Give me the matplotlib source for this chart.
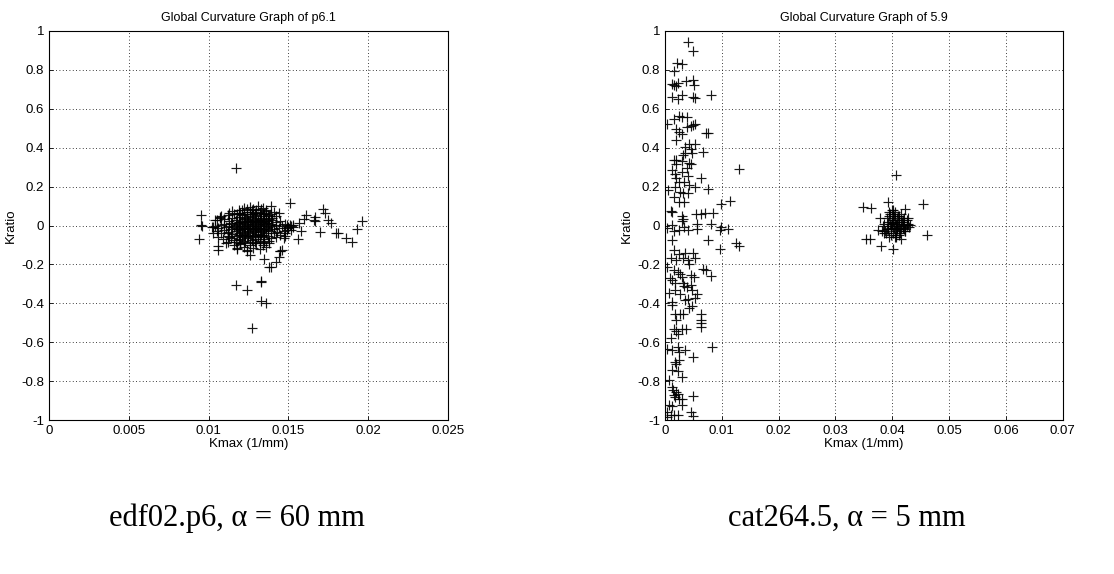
import matplotlib
matplotlib.use("Agg")
import matplotlib.pyplot as plt

# ---- left panel: edf02.p6 ----
left_x = [
    # upper edge of blob
    0.0122, 0.0126, 0.0131, 0.0134, 0.0128, 0.0136, 0.0119, 0.0141, 0.0144, 0.0115,
    0.0108, 0.0112, 0.0116, 0.0119, 0.0121, 0.0124, 0.0127, 0.0129, 0.0132, 0.0135,
    0.0137, 0.0139, 0.0142, 0.0126, 0.0130, 0.0133,
    0.0104, 0.0107, 0.0110, 0.0113, 0.0115, 0.0117, 0.0119, 0.0120, 0.0122, 0.0123,
    0.0124, 0.0125, 0.0126, 0.0127, 0.0128, 0.0129, 0.0130, 0.0131, 0.0132, 0.0133,
    0.0134, 0.0135, 0.0136, 0.0137, 0.0138, 0.0140, 0.0142, 0.0145,
    # middle of blob
    0.0102, 0.0104, 0.0106, 0.0108, 0.0110, 0.0111, 0.0113, 0.0114, 0.0116, 0.0117,
    0.0118, 0.0119, 0.0120, 0.0121, 0.0122, 0.0123, 0.0124, 0.0125, 0.0126, 0.0127,
    0.0128, 0.0129, 0.0130, 0.0131, 0.0132, 0.0133, 0.0134, 0.0135, 0.0136, 0.0137,
    0.0138, 0.0139, 0.0140, 0.0142, 0.0144, 0.0146, 0.0148, 0.0150, 0.0149,
    0.0105, 0.0108, 0.0110, 0.0112, 0.0114, 0.0115, 0.0117, 0.0118, 0.0119, 0.0120,
    0.0121, 0.0122, 0.0123, 0.0124, 0.0125, 0.0126, 0.0127, 0.0128, 0.0129, 0.0130,
    0.0131, 0.0132, 0.0133, 0.0134, 0.0135, 0.0136, 0.0137, 0.0139, 0.0141, 0.0143,
    0.0147,
    # extra fill of the dense core
    0.0118, 0.0120, 0.0122, 0.0124, 0.0126, 0.0128, 0.0130, 0.0132, 0.0134, 0.0136,
    0.0138, 0.0119, 0.0121, 0.0123, 0.0125, 0.0127, 0.0129, 0.0131, 0.0133, 0.0135,
    0.0137, 0.0118, 0.0120, 0.0122, 0.0124, 0.0126, 0.0128, 0.0130, 0.0132, 0.0134,
    0.0136, 0.0119, 0.0121, 0.0123, 0.0125, 0.0127, 0.0129, 0.0131, 0.0133, 0.0135,
    0.0117, 0.0120, 0.0123, 0.0126, 0.0129, 0.0132, 0.0135, 0.0138, 0.0121, 0.0124,
    0.0127, 0.0130, 0.0133, 0.0136, 0.0115, 0.0113, 0.0140, 0.0141,
    # lower part of blob
    0.0106, 0.0109, 0.0112, 0.0114, 0.0116, 0.0118, 0.0119, 0.0121, 0.0122, 0.0124,
    0.0125, 0.0127, 0.0128, 0.0129, 0.0131, 0.0132, 0.0134, 0.0135, 0.0137, 0.0139,
    0.0142, 0.0145, 0.0148,
    0.0111, 0.0116, 0.0118, 0.0120, 0.0122, 0.0124, 0.0126, 0.0128, 0.0130, 0.0132,
    0.0134, 0.0136, 0.0138, 0.0145, 0.0112,
    # scattered points around the blob
    0.0117, 0.0095, 0.0095, 0.0096, 0.0094, 0.0117, 0.0124, 0.0133, 0.0133, 0.0133,
    0.0136, 0.0127, 0.0138, 0.0139, 0.0142, 0.0144, 0.0146, 0.0145, 0.0135, 0.0126,
    0.0151, 0.0139, 0.0172, 0.0173, 0.0175, 0.0177, 0.0180, 0.0181, 0.0186, 0.0190,
    0.0193, 0.0196, 0.0170, 0.0160, 0.0161, 0.0157, 0.0156, 0.0158, 0.0167, 0.0166,
    0.0167, 0.0152, 0.0153, 0.0151, 0.0149, 0.0148, 0.0147, 0.0120, 0.0106, 0.0106,
    0.0103, 0.0103, 0.0105, 0.0107, 0.0113, 0.0112, 0.0120, 0.0118, 0.0124, 0.0150,
    0.0152, 0.0153,
]
left_y = [
    0.090, 0.095, 0.100, 0.090, 0.085, 0.080, 0.080, 0.070, 0.065, 0.075,
    0.050, 0.055, 0.060, 0.065, 0.055, 0.070, 0.060, 0.065, 0.070, 0.060,
    0.055, 0.060, 0.050, 0.050, 0.052, 0.048,
    0.030, 0.040, 0.035, 0.025, 0.040, 0.030, 0.045, 0.020, 0.035, 0.040,
    0.025, 0.030, 0.045, 0.020, 0.035, 0.030, 0.040, 0.025, 0.030, 0.035,
    0.020, 0.040, 0.030, 0.025, 0.035, 0.030, 0.020, 0.025,
    -0.005, 0.000, -0.010, 0.005, 0.010, -0.005, 0.000, 0.012, -0.008, 0.005,
    0.015, -0.002, 0.008, 0.000, 0.012, -0.006, 0.004, 0.010, -0.003, 0.006,
    0.000, 0.013, -0.008, 0.005, 0.010, -0.002, 0.007, 0.000, 0.012, -0.005,
    0.003, 0.010, -0.003, 0.005, -0.010, 0.000, 0.010, -0.005, 0.003,
    -0.030, -0.040, -0.025, -0.035, -0.020, -0.045, -0.030, -0.020, -0.040, -0.025,
    -0.035, -0.020, -0.045, -0.030, -0.020, -0.040, -0.025, -0.035, -0.020, -0.030,
    -0.045, -0.025, -0.035, -0.020, -0.030, -0.040, -0.025, -0.030, -0.020, -0.035,
    -0.030,
    0.060, 0.065, 0.058, 0.062, 0.068, 0.057, 0.063, 0.066, 0.059, 0.064,
    0.050, 0.018, 0.022, 0.016, 0.020, 0.024, 0.017, 0.021, 0.019, 0.023,
    0.015, -0.012, -0.015, -0.010, -0.014, -0.011, -0.016, -0.013, -0.012, -0.015,
    -0.010, -0.050, -0.048, -0.052, -0.047, -0.051, -0.049, -0.053, -0.046, -0.050,
    -0.085, -0.090, -0.082, -0.088, -0.086, -0.092, -0.084, -0.080, 0.080, 0.085,
    0.078, 0.082, 0.086, 0.075, 0.010, -0.060, 0.040, -0.040,
    -0.060, -0.070, -0.055, -0.065, -0.075, -0.055, -0.070, -0.060, -0.080, -0.065,
    -0.055, -0.075, -0.060, -0.070, -0.055, -0.080, -0.060, -0.070, -0.055, -0.065,
    -0.060, -0.050, -0.055,
    -0.090, -0.100, -0.120, -0.095, -0.110, -0.130, -0.100, -0.115, -0.090, -0.120,
    -0.100, -0.110, -0.090, -0.130, -0.085,
    0.294, 0.055, 0.003, 0.000, -0.068, -0.305, -0.330, -0.284, -0.292, -0.390,
    -0.400, -0.526, -0.214, -0.212, -0.185, -0.160, -0.125, -0.130, -0.170, -0.150,
    0.115, 0.100, 0.084, 0.063, 0.030, 0.015, -0.040, -0.040, -0.062, -0.084,
    -0.020, 0.026, -0.033, 0.032, 0.055, 0.015, -0.070, -0.030, 0.026, 0.030,
    0.046, -0.022, -0.005, 0.005, -0.022, -0.040, -0.065, -0.075, -0.125, -0.105,
    -0.040, -0.005, 0.030, 0.045, 0.063, -0.040, -0.090, -0.115, -0.125, -0.010,
    0.000, 0.005,
]

# ---- right panel: cat264.5 ----
right_x = [
    # stripe near Kmax = 0
    0.0040, 0.0049, 0.0021, 0.0029, 0.0015, 0.0012, 0.0016, 0.0019, 0.0022, 0.0036,
    0.0049, 0.0051, 0.0012, 0.0022, 0.0030, 0.0050, 0.0052, 0.0081,
    0.0004, 0.0016, 0.0025, 0.0029, 0.0039, 0.0019, 0.0025, 0.0029, 0.0038, 0.0045,
    0.0050, 0.0053, 0.0072, 0.0075, 0.0019, 0.0035, 0.0042, 0.0053, 0.0067, 0.0045,
    0.0048, 0.0015, 0.0020, 0.0020, 0.0032, 0.0035, 0.0030, 0.0042, 0.0045, 0.0039,
    0.0029, 0.0013, 0.0017, 0.0019, 0.0025, 0.0033, 0.0040, 0.0063, 0.0017, 0.0042,
    0.0053, 0.0076, 0.0026, 0.0032, 0.0040, 0.0005, 0.0016, 0.0033, 0.0025, 0.0010,
    0.0013, 0.0030, 0.0031, 0.0029, 0.0063, 0.0054, 0.0070, 0.0085, 0.0098, 0.0115,
    0.0130, 0.0012, 0.0004, 0.0015, 0.0025, 0.0033, 0.0041, 0.0056, 0.0057, 0.0080,
    0.0097, 0.0099, 0.0110, 0.0076, 0.0096, 0.0125, 0.0130,
    0.0013, 0.0015, 0.0025, 0.0035, 0.0050, 0.0010, 0.0019, 0.0031, 0.0040, 0.0043,
    0.0052, 0.0004, 0.0016, 0.0023, 0.0026, 0.0030, 0.0045, 0.0051, 0.0067, 0.0072,
    0.0081, 0.0009, 0.0013, 0.0017, 0.0032, 0.0033, 0.0039, 0.0045, 0.0048, 0.0017,
    0.0026, 0.0035, 0.0041, 0.0053, 0.0057, 0.0007, 0.0013, 0.0012, 0.0017, 0.0026,
    0.0032, 0.0042, 0.0048, 0.0063, 0.0064, 0.0063, 0.0064, 0.0019, 0.0015, 0.0019,
    0.0023, 0.0030, 0.0036, 0.0010, 0.0004, 0.0013, 0.0022, 0.0025, 0.0035, 0.0025,
    0.0017, 0.0020, 0.0049, 0.0083, 0.0012, 0.0022, 0.0029, 0.0007, 0.0013, 0.0014,
    0.0019, 0.0023, 0.0016, 0.0017, 0.0024, 0.0030, 0.0049, 0.0029, 0.0007, 0.0013,
    0.0004, 0.0015, 0.0022, 0.0046, 0.0049, 0.0010, 0.0004,
    # cluster near Kmax = 0.04
    0.0406, 0.0392, 0.0349, 0.0363, 0.0454, 0.0461, 0.0360, 0.0354, 0.0380, 0.0401,
    0.0423, 0.0425, 0.0432,
    0.0385, 0.0390, 0.0393, 0.0396, 0.0398, 0.0400, 0.0402, 0.0404, 0.0406, 0.0408,
    0.0410, 0.0412, 0.0415, 0.0418, 0.0420, 0.0423, 0.0427, 0.0388, 0.0392, 0.0395,
    0.0397, 0.0399, 0.0401, 0.0403, 0.0405, 0.0407, 0.0409, 0.0411, 0.0414, 0.0417,
    0.0421, 0.0425, 0.0383, 0.0389, 0.0394, 0.0398, 0.0402, 0.0405, 0.0409, 0.0413,
    0.0416, 0.0419, 0.0422, 0.0428, 0.0391, 0.0396, 0.0400, 0.0404, 0.0407, 0.0411,
    0.0415, 0.0420, 0.0378, 0.0386, 0.0393, 0.0399, 0.0403, 0.0408, 0.0412, 0.0418,
    0.0394, 0.0402, 0.0410, 0.0416, 0.0399, 0.0406, 0.0381, 0.0426, 0.0430, 0.0375,
]
right_y = [
    0.943, 0.897, 0.837, 0.832, 0.793, 0.730, 0.720, 0.715, 0.733, 0.741,
    0.747, 0.724, 0.660, 0.649, 0.673, 0.661, 0.658, 0.670,
    0.524, 0.550, 0.562, 0.558, 0.558, 0.498, 0.481, 0.469, 0.507, 0.513,
    0.519, 0.520, 0.478, 0.476, 0.438, 0.404, 0.421, 0.418, 0.378, 0.394,
    0.375, 0.336, 0.339, 0.318, 0.361, 0.373, 0.332, 0.322, 0.315, 0.297,
    0.276, 0.284, 0.267, 0.242, 0.224, 0.224, 0.253, 0.245, 0.200, 0.207,
    0.199, 0.190, 0.171, 0.168, 0.168, 0.185, 0.147, 0.122, 0.122, 0.075,
    0.070, 0.048, 0.036, 0.024, 0.062, 0.058, 0.067, 0.067, 0.110, 0.127,
    0.293, 0.005, -0.014, -0.027, -0.021, -0.007, -0.024, -0.020, 0.007, 0.007,
    -0.024, -0.007, -0.020, -0.075, -0.118, -0.089, -0.106,
    -0.075, -0.123, -0.144, -0.139, -0.140, -0.169, -0.178, -0.169, -0.178, -0.195,
    -0.169, -0.212, -0.229, -0.238, -0.250, -0.264, -0.255, -0.264, -0.221, -0.229,
    -0.260, -0.267, -0.281, -0.294, -0.294, -0.308, -0.315, -0.307, -0.329, -0.329,
    -0.351, -0.380, -0.378, -0.372, -0.353, -0.349, -0.392, -0.409, -0.452, -0.452,
    -0.452, -0.423, -0.414, -0.452, -0.486, -0.503, -0.520, -0.486, -0.529, -0.543,
    -0.555, -0.529, -0.529, -0.580, -0.632, -0.640, -0.623, -0.650, -0.637, -0.692,
    -0.700, -0.712, -0.675, -0.623, -0.743, -0.747, -0.777, -0.795, -0.829, -0.846,
    -0.855, -0.863, -0.872, -0.880, -0.889, -0.889, -0.877, -0.920, -0.923, -0.928,
    -0.958, -0.975, -0.975, -0.960, -0.980, -0.975, -0.983,
    0.259, 0.122, 0.096, 0.092, 0.113, -0.046, -0.070, -0.068, -0.106, -0.118,
    0.084, 0.002, 0.002,
    0.010, 0.040, -0.020, 0.060, 0.000, 0.030, -0.040, 0.070, 0.010, -0.020,
    0.050, -0.050, 0.020, -0.010, 0.040, -0.030, 0.010, -0.030, 0.020, 0.070,
    -0.050, 0.010, 0.060, -0.010, 0.030, -0.060, 0.000, 0.050, -0.040, 0.020,
    -0.020, 0.030, 0.000, -0.040, 0.050, -0.010, 0.020, -0.060, 0.040, -0.020,
    0.060, 0.000, -0.030, 0.040, -0.020, 0.010, 0.080, -0.030, 0.000, 0.030,
    -0.070, 0.010, 0.040, -0.040, -0.015, 0.015, 0.050, -0.020, 0.000, 0.030,
    -0.060, 0.080, 0.000, -0.010, 0.020, -0.050, -0.030, 0.005, -0.005, -0.025,
]

titles = ["Global Curvature Graph of p6.1", "Global Curvature Graph of 5.9"]
captions = ["edf02.p6, \u03b1 = 60 mm", "cat264.5, \u03b1 = 5 mm"]
x_ticks = [[0, 0.005, 0.01, 0.015, 0.02, 0.025],
           [0, 0.01, 0.02, 0.03, 0.04, 0.05, 0.06, 0.07]]
y_ticks = [-1, -0.8, -0.6, -0.4, -0.2, 0, 0.2, 0.4, 0.6, 0.8, 1]

plt.rcParams['font.family'] = ['Liberation Sans', 'DejaVu Sans']

fig = plt.figure(figsize=(11.14, 5.74), dpi=100)
ax_pos = [[0.044, 0.268, 0.358, 0.678], [0.597, 0.268, 0.357, 0.678]]
cap_x = [0.213, 0.760]
data = [(left_x, left_y), (right_x, right_y)]

for i in range(2):
    ax = fig.add_axes(ax_pos[i])
    xs, ys = data[i]
    # MATLAB style '+' markers
    ax.plot(xs, ys, '+', color='black', markersize=7, markeredgewidth=0.85, alpha=0.9)
    ax.set_xlim(x_ticks[i][0], x_ticks[i][-1])
    ax.set_ylim(-1, 1)
    ax.set_xticks(x_ticks[i])
    ax.set_xticklabels([f"{t:g}" for t in x_ticks[i]])
    ax.set_yticks(y_ticks)
    ax.set_yticklabels([f"{t:g}" for t in y_ticks])
    ax.grid(True, linestyle=(0, (1, 3)), color='black', linewidth=0.6)
    ax.tick_params(direction='in', labelsize=9.5, length=3, width=0.6)
    for s in ax.spines.values():
        s.set_linewidth(0.8)
    ax.set_title(titles[i], fontsize=9, pad=7)
    ax.set_xlabel("Kmax (1/mm)", fontsize=9.5, labelpad=1)
    ax.set_ylabel("Kratio", fontsize=9.5, labelpad=3)
    fig.text(cap_x[i], 0.097, captions[i], fontsize=22, ha='center', va='center',
             family=['Liberation Serif', 'DejaVu Serif'])

fig.savefig("out.png", dpi=100, facecolor='white')
